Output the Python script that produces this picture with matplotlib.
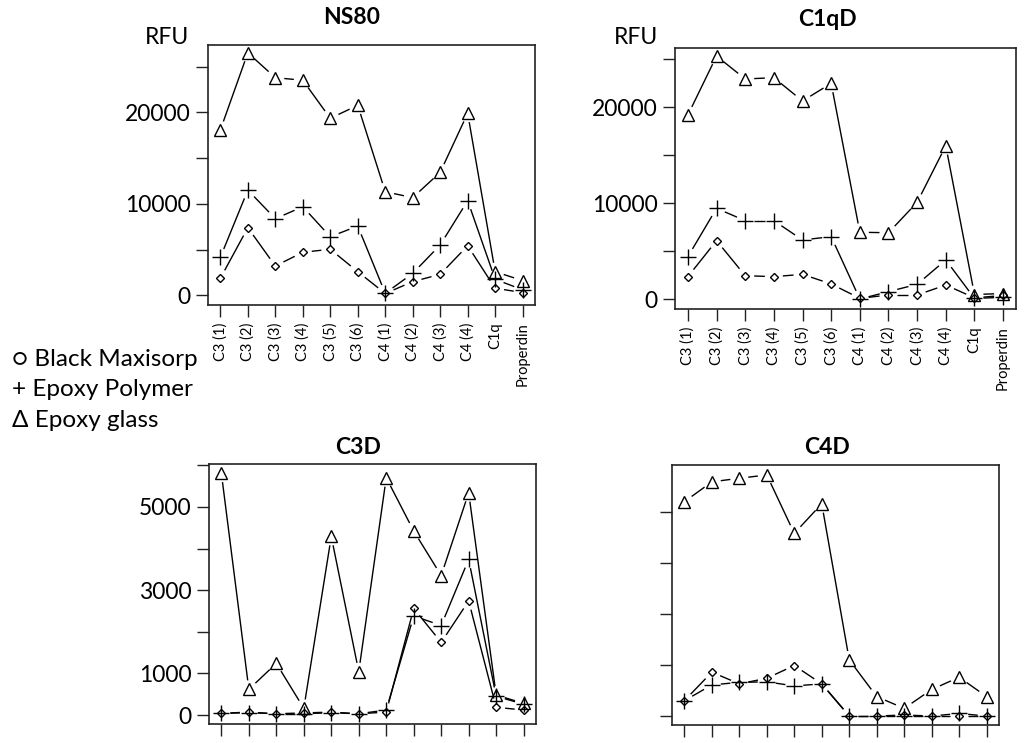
import numpy as np
import matplotlib
matplotlib.use('Agg')
import matplotlib.pyplot as plt

plt.rcParams['font.family'] = ['Lato', 'DejaVu Sans']

# x軸のカテゴリ
categories = ['C3 (1)', 'C3 (2)', 'C3 (3)', 'C3 (4)', 'C3 (5)', 'C3 (6)',
              'C4 (1)', 'C4 (2)', 'C4 (3)', 'C4 (4)', 'C1q', 'Properdin']

# NS80
ns80_maxisorp = [1860, 7390, 3200, 4700, 5030, 2580, 200, 1490, 2290, 5420, 770, 300]
ns80_polymer = [4150, 11500, 8370, 9680, 6400, 7570, 220, 2400, 5500, 10340, 1750, 600]
ns80_glass = [18070, 26500, 23780, 23500, 19340, 20760, 11320, 10670, 13440, 19890, 2580, 1600]

# C1qD
c1qd_maxisorp = [2360, 6110, 2460, 2360, 2600, 1600, 100, 450, 450, 1490, 150, 400]
c1qd_polymer = [4440, 9480, 8190, 8190, 6180, 6530, 30, 800, 1560, 4100, 100, 200]
c1qd_glass = [19200, 25340, 22950, 23090, 20660, 22500, 6980, 6940, 10100, 16000, 500, 600]

# C3D
c3d_maxisorp = [40, 70, 30, 50, 70, 30, 70, 2560, 1745, 2740, 185, 120]
c3d_polymer = [40, 55, 30, 30, 55, 30, 120, 2380, 2150, 3740, 450, 260]
c3d_glass = [5810, 617, 1240, 160, 4290, 1040, 5700, 4420, 3350, 5340, 480, 280]

# C4D (y軸の目盛り値は無表示)
c4d_maxisorp = [300, 860, 630, 740, 990, 630, 0, 0, 20, 0, 0, 0]
c4d_polymer = [300, 610, 660, 670, 590, 630, 0, 0, 0, 0, 50, 0]
c4d_glass = [4200, 4590, 4660, 4725, 3580, 4160, 1100, 380, 150, 520, 760, 380]

W, H = 1024, 743


def px_rect(left, right, top, bottom):
    # ピクセル座標 -> figure座標
    return [left / W, (H - bottom) / H, (right - left) / W, (bottom - top) / H]


def gapped_line(ax, x, y, gap=9):
    # Rの type="b" のように点の周りに隙間を空けて線を引く
    pts = ax.transData.transform(np.column_stack([x, y]))
    inv = ax.transData.inverted()
    for p0, p1 in zip(pts[:-1], pts[1:]):
        d = p1 - p0
        length = np.hypot(*d)
        if length <= 2 * gap:
            continue
        u = d / length
        a = inv.transform(p0 + u * gap)
        b = inv.transform(p1 - u * gap)
        ax.plot([a[0], b[0]], [a[1], b[1]], color='black', lw=1.0,
                solid_capstyle='butt')


def panel(fig, rect, xlim, ylim, yticks, ylabels, series, show_xlabels):
    ax = fig.add_axes(rect)
    x = np.arange(len(categories))
    ax.set_xlim(*xlim)
    ax.set_ylim(*ylim)

    markers = [('D', 4.5), ('+', 11), ('^', 9)]
    for values, (m, ms) in zip(series, markers):
        gapped_line(ax, x, values)
        ax.plot(x, values, linestyle='none', marker=m, markersize=ms,
                markerfacecolor='none', markeredgecolor='black',
                markeredgewidth=1.0)

    ax.set_xticks(x)
    if show_xlabels:
        ax.set_xticklabels(categories, rotation=90, fontsize=10.5)
    else:
        ax.set_xticklabels([])
    ax.set_yticks(yticks)
    ax.set_yticklabels(ylabels, fontsize=16.5)
    ax.tick_params(direction='out', length=8.5, width=1.0, color='#222222', pad=4)
    for s in ax.spines.values():
        s.set_linewidth(1.2)
        s.set_color('#222222')
    return ax


def main():
    fig = plt.figure(figsize=(W / 100, H / 100), dpi=100)

    # NS80
    panel(fig, px_rect(208, 535, 45, 305), (-0.45, 11.45), (-1060, 27350),
          range(0, 25001, 5000), ['0', '', '10000', '', '20000', ''],
          [ns80_maxisorp, ns80_polymer, ns80_glass], True)
    # C1qD
    panel(fig, px_rect(675, 1016, 48, 309), (-0.45, 11.45), (-1010, 26180),
          range(0, 25001, 5000), ['0', '', '10000', '', '20000', ''],
          [c1qd_maxisorp, c1qd_polymer, c1qd_glass], True)
    # C3D
    panel(fig, px_rect(209, 536, 464, 724), (-0.45, 11.45), (-216, 6030),
          range(0, 6001, 1000), ['0', '1000', '', '3000', '', '5000', ''],
          [c3d_maxisorp, c3d_polymer, c3d_glass], False)
    # C4D
    panel(fig, px_rect(672, 999, 465, 725), (-0.45, 11.45), (-176, 4920),
          range(0, 4001, 1000), [''] * 5,
          [c4d_maxisorp, c4d_polymer, c4d_glass], False)

    # タイトル
    for label, cx, cy in [('NS80', 352, 18), ('C1qD', 827, 20),
                          ('C3D', 358, 447), ('C4D', 827, 447)]:
        fig.text(cx / W, 1 - cy / H, label, ha='center', va='center',
                 fontsize=16.5, fontweight='bold')

    # RFU ラベル
    for cx in [167, 636]:
        fig.text(cx / W, 1 - 37 / H, 'RFU', ha='center', va='center', fontsize=16.5)

    # 凡例
    for text, cy in [('○ Black Maxisorp', 359), ('+ Epoxy Polymer', 389),
                     ('Δ Epoxy glass', 420)]:
        fig.text(12 / W, 1 - cy / H, text, ha='left', va='center', fontsize=17.5)

    fig.savefig('out.png', dpi=100)


if __name__ == '__main__':
    main()
